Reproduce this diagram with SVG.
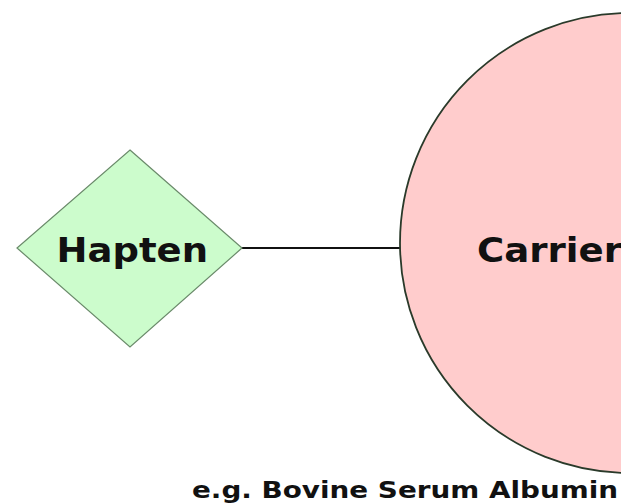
<svg xmlns="http://www.w3.org/2000/svg" width="621" height="504" viewBox="0 0 621 504">
<style>
.lbl{font-family:"DejaVu Sans","Liberation Sans",sans-serif;font-weight:bold;fill:#111}
</style>
<rect width="621" height="504" fill="#ffffff"/>
<g id="connectors">
<line x1="242" y1="248" x2="401" y2="248" stroke="#111" stroke-width="2"/>
</g>
<g id="hapten">
<polygon points="130,150 242,248 130,347 17,248" fill="#ccfccc" stroke="#6a8a6a" stroke-width="1.2"/>
<text class="lbl" x="56.5" y="261.5" font-size="33" textLength="151.5" lengthAdjust="spacingAndGlyphs">Hapten</text>
</g>
<g id="carrier">
<ellipse cx="630" cy="243" rx="230" ry="230" fill="#ffcccc" stroke="#2a3a2a" stroke-width="1.8"/>
<text class="lbl" x="477" y="261.5" font-size="33" textLength="145" lengthAdjust="spacingAndGlyphs">Carrier</text>
</g>
<g id="caption">
<text class="lbl" x="192" y="498" font-size="22.5" textLength="426" lengthAdjust="spacingAndGlyphs">e.g. Bovine Serum Albumin</text>
</g>
</svg>
